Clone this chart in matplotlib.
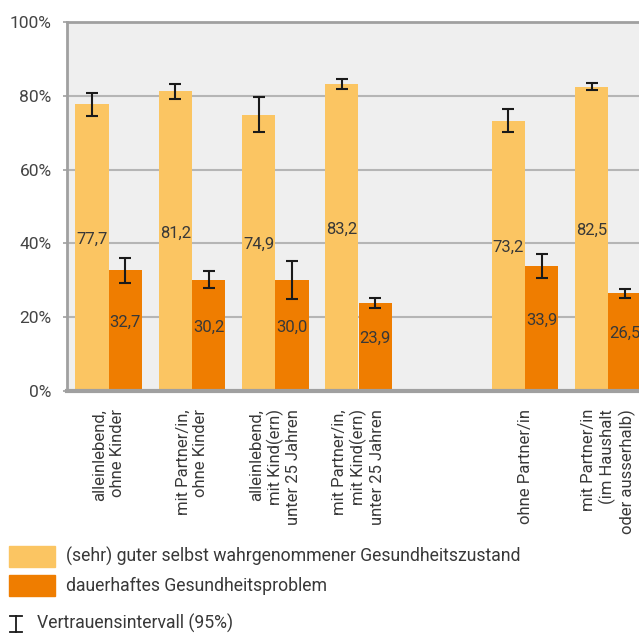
import numpy as np
import matplotlib
matplotlib.use("Agg")
import matplotlib.pyplot as plt
from matplotlib.patches import Rectangle
from matplotlib.lines import Line2D

plt.rcParams["font.family"] = ["Roboto", "DejaVu Sans"]

# data (percent), empty slot separates the two groups
categories = [
    "alleinlebend,\nohne Kinder",
    "mit Partner/in,\nohne Kinder",
    "alleinlebend,\nmit Kind(ern)\nunter 25 Jahren",
    "mit Partner/in,\nmit Kind(ern)\nunter 25 Jahren",
    "",
    "ohne Partner/in",
    "mit Partner/in\n(im Haushalt\noder ausserhalb)",
]
good_health = [77.7, 81.2, 74.9, 83.2, np.nan, 73.2, 82.5]
good_low = [74.6, 79.2, 70.2, 81.9, np.nan, 70.2, 81.5]
good_high = [80.8, 83.3, 79.6, 84.5, np.nan, 76.3, 83.6]

problem = [32.7, 30.2, 30.0, 23.9, np.nan, 33.9, 26.5]
problem_low = [29.4, 27.8, 24.9, 22.5, np.nan, 30.6, 25.2]
problem_high = [36.1, 32.6, 35.1, 25.3, np.nan, 37.2, 27.7]

legend_labels = ["(sehr) guter selbst wahrgenommener Gesundheitszustand",
                 "dauerhaftes Gesundheitsproblem"]
ci_label = "Vertrauensintervall (95%)"

c_light = "#FBC562"
c_dark = "#EF7D00"
txt = "#383838"

fig = plt.figure(figsize=(6.39, 6.34), dpi=100)
ax = fig.add_axes([67 / 639, 1 - 391 / 634, 583 / 639, 369 / 634])
ax.set_facecolor("#EFEFEF")

x = np.arange(len(categories))
w = 0.4

good = np.array(good_health)
prob = np.array(problem)
ax.bar(x - w / 2, good, w, color=c_light, zorder=2)
ax.bar(x + w / 2, prob, w, color=c_dark, zorder=2)

# confidence intervals
ek = dict(fmt="none", ecolor="#1a1a1a", elinewidth=1.5, capsize=4.5, capthick=1.5, zorder=3)
ax.errorbar(x - w / 2, good, yerr=[good - np.array(good_low), np.array(good_high) - good], **ek)
ax.errorbar(x + w / 2, prob, yerr=[prob - np.array(problem_low), np.array(problem_high) - prob], **ek)

# value labels in the middle of the bars
for xi, g, p in zip(x, good, prob):
    if np.isnan(g):
        continue
    for xx, v in [(xi - w / 2, g), (xi + w / 2, p)]:
        ax.annotate(f"{v:.1f}".replace(".", ","), (xx, v / 2), xytext=(0, 6),
                    textcoords="offset points", ha="center", va="center",
                    fontsize=12, color=txt, zorder=4)

ax.set_xlim(-0.5, len(categories) - 0.5)
ax.set_ylim(0, 100)
ax.set_yticks([0, 20, 40, 60, 80, 100])
ax.set_yticklabels([f"{t}%" for t in [0, 20, 40, 60, 80, 100]])
ax.yaxis.grid(True, color="#B5B5B5", linewidth=1.5, zorder=1)
ax.set_axisbelow(True)
ax.tick_params(axis="y", length=3, width=1.2, color="#A0A0A0", pad=8,
               labelsize=12.5, labelcolor="#444444")

ax.set_xticks(x)
ax.set_xticklabels(categories, rotation=90, ha="center", va="top",
                   multialignment="right", fontsize=12, color=txt)
ax.tick_params(axis="x", length=0, pad=13)

ax.spines["right"].set_visible(False)
ax.spines["top"].set_color("#A0A0A0")
ax.spines["top"].set_linewidth(2)
ax.spines["left"].set_color("#A0A0A0")
ax.spines["left"].set_linewidth(2)
ax.spines["bottom"].set_color("#A0A0A0")
ax.spines["bottom"].set_linewidth(3)

# legend drawn by hand
for i, (col, lab) in enumerate(zip([c_light, c_dark], legend_labels)):
    y0 = 1 - (567 + i * 29) / 634
    fig.patches.append(Rectangle((9 / 639, y0), 46 / 639, 21 / 634,
                                 transform=fig.transFigure, color=col))
    fig.text(66 / 639, y0 + 10.5 / 634, lab, fontsize=12.7, color=txt, va="center")

xc = 16 / 639
fig.add_artist(Line2D([xc, xc], [1 - 632 / 634, 1 - 616 / 634], color="#1a1a1a", lw=1.3))
for yy in [616, 632]:
    fig.add_artist(Line2D([xc - 6 / 639, xc + 6 / 639], [1 - yy / 634] * 2,
                          color="#1a1a1a", lw=1.3))
fig.text(37 / 639, 1 - 623 / 634, ci_label, fontsize=12.7, color=txt, va="center")

fig.savefig("out.png", dpi=100)
